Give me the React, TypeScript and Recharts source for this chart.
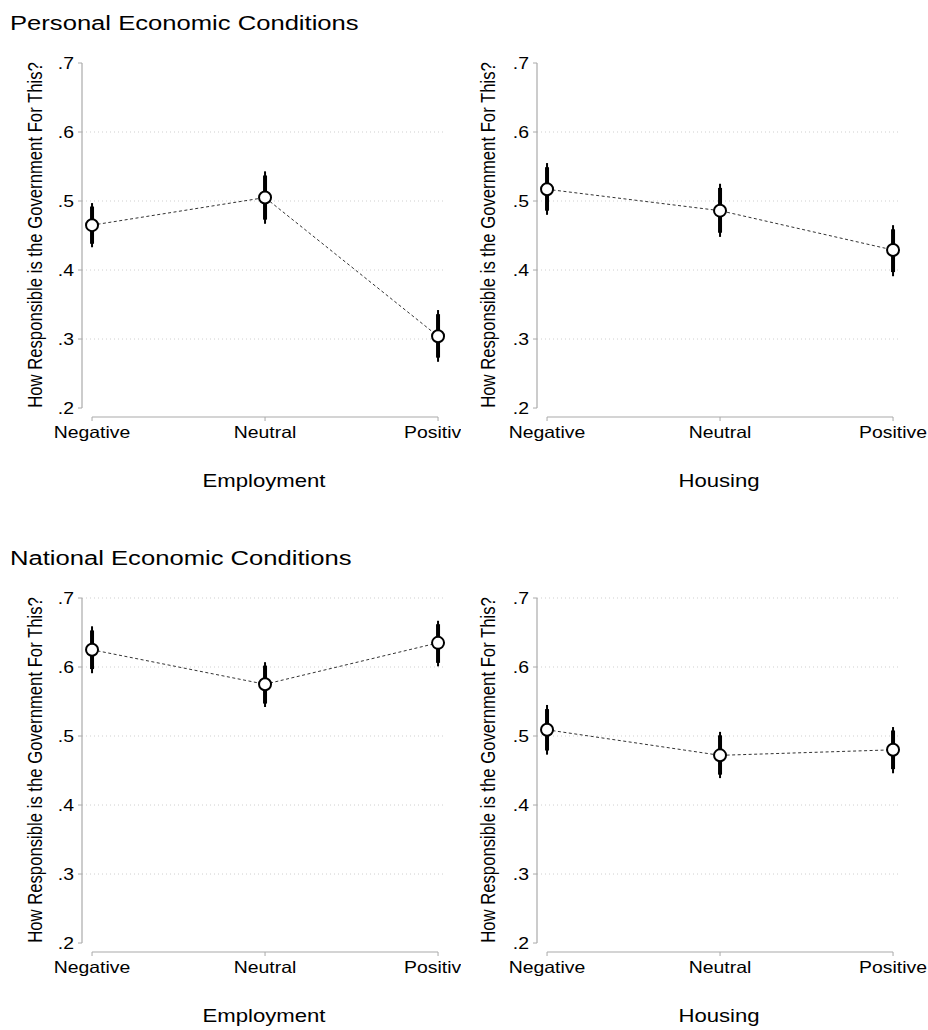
import React from 'react';
import {
  ComposedChart,
  Line,
  XAxis,
  YAxis,
  CartesianGrid,
  ReferenceLine,
  ErrorBar,
} from 'recharts';

// categories and tick values
const CATS = ['Negative', 'Neutral', 'Positive'];
const X_TICKS = [0, 1, 2];
const Y_TICKS = [0.2, 0.3, 0.4, 0.5, 0.6, 0.7];
const GRID_TOP = [0.3, 0.4, 0.5, 0.6];
const GRID_BOTTOM = [0.3, 0.4, 0.5, 0.6, 0.7];

// Personal – Employment
const persEmpMean = [0.465, 0.505, 0.304];
const persEmpLo95 = [0.433, 0.467, 0.267];
const persEmpHi95 = [0.497, 0.543, 0.342];
const persEmpLo90 = [0.438, 0.473, 0.273];
const persEmpHi90 = [0.492, 0.537, 0.336];

// Personal – Housing
const persHouMean = [0.517, 0.486, 0.429];
const persHouLo95 = [0.48, 0.448, 0.391];
const persHouHi95 = [0.555, 0.525, 0.465];
const persHouLo90 = [0.486, 0.454, 0.397];
const persHouHi90 = [0.549, 0.519, 0.459];

// National – Employment
const natEmpMean = [0.625, 0.575, 0.635];
const natEmpLo95 = [0.591, 0.542, 0.601];
const natEmpHi95 = [0.659, 0.607, 0.667];
const natEmpLo90 = [0.597, 0.547, 0.606];
const natEmpHi90 = [0.653, 0.602, 0.662];

// National – Housing
const natHouMean = [0.509, 0.472, 0.48];
const natHouLo95 = [0.473, 0.439, 0.446];
const natHouHi95 = [0.545, 0.506, 0.513];
const natHouLo90 = [0.479, 0.444, 0.452];
const natHouHi90 = [0.539, 0.501, 0.508];

const FONT = '"Liberation Sans", Arial, Helvetica, sans-serif';
const SX = 1.19; // the original export is stretched sideways
const AXIS = '#aaaaaa';
const X_DOMAIN: [number, number] = [-0.058, 2.046];
const Y_DOMAIN: [number, number] = [0.187, 0.7];

const buildRows = (m: number[], lo95: number[], hi95: number[], lo90: number[], hi90: number[]) =>
  CATS.map((c, i) => ({
    pos: X_TICKS[i],
    cat: c,
    mean: m[i],
    ci95: [m[i] - lo95[i], hi95[i] - m[i]],
    ci90: [m[i] - lo90[i], hi90[i] - m[i]],
  }));

const fmtY = (v: number) => v.toFixed(1).replace(/^0/, '');

const XTick = (props: any) => {
  const { x, y, payload } = props;
  return (
    <text
      transform={`translate(${x},${y}) scale(${SX},1)`}
      textAnchor="middle"
      dy="0.71em"
      fontSize={16.3}
      fontFamily={FONT}
      fill="#000"
    >
      {CATS[payload.value]}
    </text>
  );
};

const YTick = (props: any) => {
  const { x, y, payload } = props;
  return (
    <text
      transform={`translate(${x},${y}) scale(${SX},1)`}
      textAnchor="end"
      dy="0.355em"
      fontSize={16.3}
      fontFamily={FONT}
      fill="#000"
    >
      {fmtY(payload.value)}
    </text>
  );
};

// hollow marker, drawn on top of the CI bars
const Marker = (props: any) => {
  const { cx, cy } = props;
  if (cx == null || cy == null) return null;
  return <circle cx={cx} cy={cy} r={6} fill="#fff" stroke="#000" strokeWidth={2} />;
};

type PanelProps = {
  rows: ReturnType<typeof buildRows>;
  xTitle: string;
  grid: number[];
  width: number;
  right: number;
  yTitleX: number;
};

const Panel = ({ rows, xTitle, grid, width, right, yTitleX }: PanelProps) => (
  <ComposedChart
    width={width}
    height={455}
    data={rows}
    margin={{ top: 23, right, bottom: 0, left: 0 }}
  >
    <CartesianGrid
      horizontal
      vertical={false}
      horizontalValues={grid}
      stroke="#cfcfcf"
      strokeDasharray="1 3"
    />
    <XAxis
      type="number"
      dataKey="pos"
      domain={X_DOMAIN}
      ticks={X_TICKS}
      height={78}
      axisLine={false}
      tickLine={{ stroke: AXIS }}
      tickSize={4}
      tickMargin={5}
      tick={<XTick />}
      interval={0}
      label={{
        content: (p: any) => {
          const vb = p.viewBox || {};
          return (
            <text
              transform={`translate(${vb.x + vb.width / 2},${vb.y + 70}) scale(${SX},1)`}
              textAnchor="middle"
              fontSize={18.6}
              fontFamily={FONT}
              fill="#000"
            >
              {xTitle}
            </text>
          );
        },
      }}
    />
    <YAxis
      type="number"
      domain={Y_DOMAIN}
      ticks={Y_TICKS}
      width={82}
      axisLine={false}
      tickLine={{ stroke: AXIS }}
      tickSize={4}
      tickMargin={4}
      tick={<YTick />}
      interval={0}
      label={{
        content: (p: any) => {
          const vb = p.viewBox || {};
          return (
            <text
              transform={`translate(${vb.x + yTitleX},${vb.y + 172}) rotate(-90) scale(1,${SX})`}
              textAnchor="middle"
              fontSize={16.7}
              fontFamily={FONT}
              fill="#000"
            >
              How Responsible is the Government For This?
            </text>
          );
        },
      }}
    />
    {/* Stata-style detached axis lines */}
    <ReferenceLine
      segment={[
        { x: X_DOMAIN[0], y: Y_TICKS[0] },
        { x: X_DOMAIN[0], y: Y_TICKS[Y_TICKS.length - 1] },
      ]}
      stroke={AXIS}
      strokeWidth={1.2}
    />
    <ReferenceLine
      segment={[
        { x: X_TICKS[0], y: Y_DOMAIN[0] },
        { x: X_TICKS[X_TICKS.length - 1], y: Y_DOMAIN[0] },
      ]}
      stroke={AXIS}
      strokeWidth={1.2}
    />
    <Line
      dataKey="mean"
      stroke="#333"
      strokeWidth={1}
      strokeDasharray="3 2.5"
      dot={false}
      activeDot={false}
      isAnimationActive={false}
    >
      <ErrorBar dataKey="ci95" direction="y" width={0} stroke="#000" strokeWidth={2} />
      <ErrorBar dataKey="ci90" direction="y" width={0} stroke="#000" strokeWidth={4} />
    </Line>
    <Line
      dataKey="mean"
      stroke="none"
      dot={<Marker />}
      activeDot={false}
      legendType="none"
      isAnimationActive={false}
    />
  </ComposedChart>
);

const Title = ({ text, top }: { text: string; top: number }) => (
  <svg width={928} height={40} style={{ position: 'absolute', left: 0, top }}>
    <text
      transform={`translate(10,30) scale(1.22,1)`}
      fontSize={21}
      fontFamily={FONT}
      fill="#000"
    >
      {text}
    </text>
  </svg>
);

export default function App() {
  const rowsPE = buildRows(persEmpMean, persEmpLo95, persEmpHi95, persEmpLo90, persEmpHi90);
  const rowsPH = buildRows(persHouMean, persHouLo95, persHouHi95, persHouLo90, persHouHi90);
  const rowsNE = buildRows(natEmpMean, natEmpLo95, natEmpHi95, natEmpLo90, natEmpHi90);
  const rowsNH = buildRows(natHouMean, natHouLo95, natHouHi95, natHouLo90, natHouHi90);

  return (
    <div
      style={{
        position: 'absolute',
        left: 0,
        top: 0,
        width: 928,
        height: 1030,
        background: '#fff',
        overflow: 'hidden',
        fontFamily: FONT,
      }}
    >
      <Title text="Personal Economic Conditions" top={0} />
      <Title text="National Economic Conditions" top={535} />

      <div style={{ position: 'absolute', left: 0, top: 40 }}>
        <Panel rows={rowsPE} xTitle="Employment" grid={GRID_TOP} width={461} right={15} yTitleX={42} />
      </div>
      <div style={{ position: 'absolute', left: 455, top: 40 }}>
        <Panel rows={rowsPH} xTitle="Housing" grid={GRID_TOP} width={473} right={27} yTitleX={40} />
      </div>
      <div style={{ position: 'absolute', left: 0, top: 575 }}>
        <Panel rows={rowsNE} xTitle="Employment" grid={GRID_BOTTOM} width={461} right={15} yTitleX={42} />
      </div>
      <div style={{ position: 'absolute', left: 455, top: 575 }}>
        <Panel rows={rowsNH} xTitle="Housing" grid={GRID_BOTTOM} width={473} right={27} yTitleX={40} />
      </div>
    </div>
  );
}
